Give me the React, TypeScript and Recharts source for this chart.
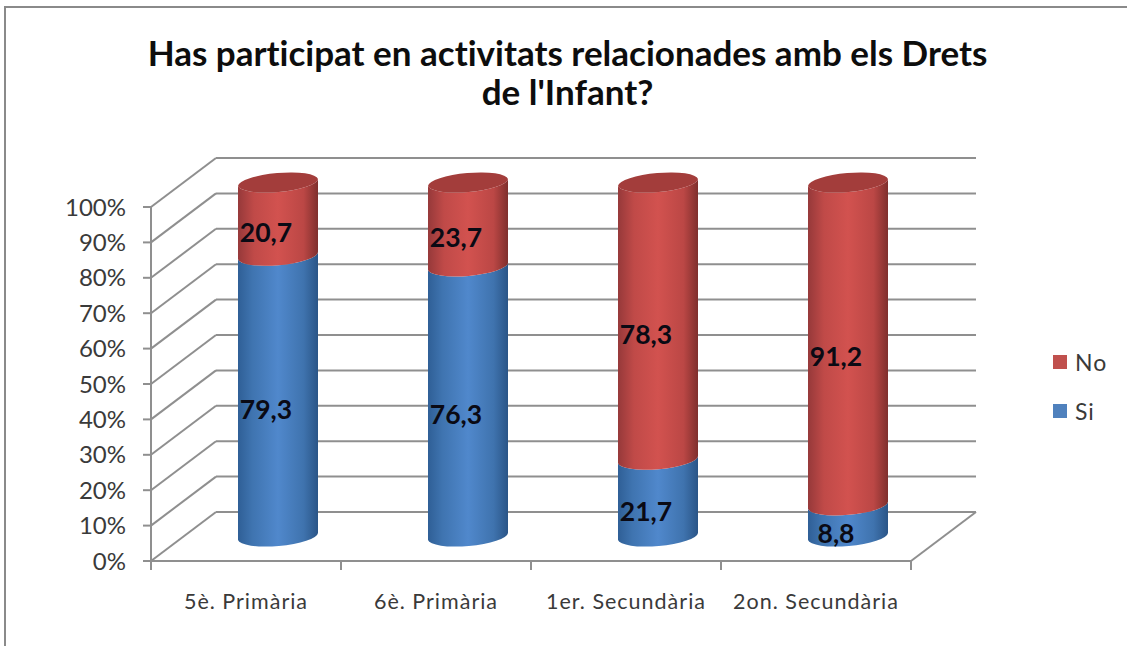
import React from 'react';
import { BarChart, Bar, XAxis, YAxis, CartesianGrid, Legend, LabelList } from 'recharts';

const categories = ['5è. Primària', '6è. Primària', '1er. Secundària', '2on. Secundària'];
const siValues = [79.3, 76.3, 21.7, 8.8];
const noValues = [20.7, 23.7, 78.3, 91.2];
const yTicks = [0, 10, 20, 30, 40, 50, 60, 70, 80, 90, 100];
const titleLines = ["Has participat en activitats relacionades amb els Drets", "de l'Infant?"];

const rows = categories.map((name, i) => ({ name, Si: siValues[i], No: noValues[i] }));

const DEPTH_X = 65;
const DEPTH_Y = 49;
const BAR_DX = 32;
const BAR_DY = 24.5;
const RY = 10;
const TILT = 3.5;
const GRID = '#8f8f8f';
const TEXT = '#3a3a3a';
const FONT = 'Lato, "Open Sans", sans-serif';

const Cylinder = (props: any) => {
  const { x, y, width, height, gradient, cap } = props;
  const l = x + BAR_DX;
  const r = l + width;
  const t = y - BAR_DY;
  const b = t + height;
  const rx = width / 2 + 0.2;
  const arcDown = `A ${rx} ${RY} -5 0 0`;
  const arcUp = `A ${rx} ${RY} -5 0 1`;
  const body = `M ${l} ${t + TILT} ${arcDown} ${r} ${t - TILT} L ${r} ${b - TILT} ${arcUp} ${l} ${b + TILT} Z`;
  return (
    <g>
      <path d={body} fill={`url(#${gradient})`} />
      {cap ? (
        <path d={`M ${l} ${t + TILT} ${arcDown} ${r} ${t - TILT} ${arcDown} ${l} ${t + TILT} Z`} fill={cap} />
      ) : null}
    </g>
  );
};

const ValueLabel = (props: any) => {
  const { x, y, width, height, value } = props;
  return (
    <text
      x={x + width / 2 + 20}
      y={y + height / 2 - 12}
      textAnchor="middle"
      dominantBaseline="central"
      fontFamily={FONT}
      fontWeight={700}
      fontSize={26.5}
      fill="#0a0a14"
    >
      {String(value).replace('.', ',')}
    </text>
  );
};

const depthLine = (props: any) => {
  const { x1, x2, y1, y2, index } = props;
  const isFloor = y1 >= 560;
  return (
    <g key={`depth-${index}-${y1}`} stroke={GRID} strokeWidth={2} fill="none">
      <line x1={x1} y1={y1} x2={x1 + DEPTH_X} y2={y1 - DEPTH_Y} />
      <line x1={x1 + DEPTH_X} y1={y1 - DEPTH_Y} x2={x2 + DEPTH_X} y2={y2 - DEPTH_Y} />
      {isFloor ? <line x1={x2} y1={y2} x2={x2 + DEPTH_X} y2={y2 - DEPTH_Y} /> : null}
    </g>
  );
};

const CategoryTick = (props: any) => {
  const { x, y, width, index, payload } = props;
  const band = width / categories.length;
  const left = x - band / 2;
  const right = x + band / 2;
  return (
    <g>
      <line x1={left} y1={y} x2={left} y2={y + 9} stroke={GRID} strokeWidth={2} />
      {index === categories.length - 1 ? (
        <line x1={right} y1={y} x2={right} y2={y + 9} stroke={GRID} strokeWidth={2} />
      ) : null}
      <text
        x={x}
        y={y + 40}
        textAnchor="middle"
        dominantBaseline="central"
        fontFamily={FONT}
        fontSize={21.5}
        letterSpacing={1}
        fill={TEXT}
      >
        {payload.value}
      </text>
    </g>
  );
};

const LegendBox = (props: any) => {
  const items = props.payload || [];
  return (
    <div style={{ fontFamily: FONT, fontSize: 23, color: TEXT }}>
      {items.map((it: any) => (
        <div key={it.value} style={{ display: 'flex', alignItems: 'center', height: 49 }}>
          <span style={{ width: 14, height: 14, background: it.color, display: 'inline-block', marginRight: 8 }} />
          <span style={{ letterSpacing: 1 }}>{it.value}</span>
        </div>
      ))}
    </div>
  );
};

export default function App() {
  return (
    <div
      style={{
        position: 'absolute',
        left: 0,
        top: 0,
        width: 1127,
        height: 646,
        overflow: 'hidden',
        background: '#fff',
      }}
    >
      <div
        style={{
          position: 'absolute',
          left: 4,
          top: 6,
          width: 1123,
          height: 640,
          boxSizing: 'border-box',
          borderTop: '2px solid #8a8a8a',
          borderLeft: '2px solid #8a8a8a',
        }}
      />
      <div
        style={{
          position: 'absolute',
          left: 0,
          top: 33,
          width: 1135,
          textAlign: 'center',
          fontFamily: FONT,
          fontWeight: 700,
          fontSize: 35,
          lineHeight: '39px',
          color: '#0d0d0d',
          fontVariantLigatures: 'none',
        }}
      >
        {titleLines.map((line) => (
          <div key={line}>{line}</div>
        ))}
      </div>
      <div style={{ position: 'absolute', left: 0, top: 0 }}>
        <BarChart
          width={1127}
          height={646}
          data={rows}
          margin={{ left: 0, top: 207, right: 146, bottom: 0 }}
          barSize={80}
        >
          <defs>
            <linearGradient id="blueCyl" x1="0" y1="0" x2="1" y2="0">
              <stop offset="0" stopColor="#2f5f96" />
              <stop offset="0.18" stopColor="#3f74b0" />
              <stop offset="0.5" stopColor="#5088cc" />
              <stop offset="0.82" stopColor="#3f73ae" />
              <stop offset="1" stopColor="#2a5587" />
            </linearGradient>
            <linearGradient id="redCyl" x1="0" y1="0" x2="1" y2="0">
              <stop offset="0" stopColor="#96393a" />
              <stop offset="0.2" stopColor="#c04a48" />
              <stop offset="0.5" stopColor="#d2524f" />
              <stop offset="0.82" stopColor="#bb4745" />
              <stop offset="1" stopColor="#7f2f2d" />
            </linearGradient>
          </defs>
          <CartesianGrid horizontal={depthLine} vertical={false} stroke={GRID} />
          <XAxis
            dataKey="name"
            height={85}
            interval={0}
            tickLine={false}
            axisLine={{ stroke: GRID, strokeWidth: 2 }}
            tickSize={0}
            tickMargin={0}
            tick={CategoryTick}
          />
          <YAxis
            width={151}
            domain={[0, 100]}
            ticks={yTicks}
            interval={0}
            tickFormatter={(v: number) => `${v}%`}
            tickLine={{ stroke: GRID, strokeWidth: 2 }}
            axisLine={{ stroke: GRID, strokeWidth: 2 }}
            tickSize={8}
            tickMargin={17}
            tick={{ fontFamily: FONT, fontSize: 24, fill: TEXT }}
          />
          <Bar
            dataKey="Si"
            stackId="a"
            fill="#4f81bd"
            isAnimationActive={false}
            shape={(p: any) => <Cylinder {...p} gradient="blueCyl" />}
          >
            <LabelList dataKey="Si" content={ValueLabel} />
          </Bar>
          <Bar
            dataKey="No"
            stackId="a"
            fill="#c0504d"
            isAnimationActive={false}
            shape={(p: any) => <Cylinder {...p} gradient="redCyl" cap="#a33d3b" />}
          >
            <LabelList dataKey="No" content={ValueLabel} />
          </Bar>
          <Legend
            layout="vertical"
            verticalAlign="top"
            align="right"
            content={LegendBox}
            wrapperStyle={{ position: 'absolute', left: 1053, top: 337, width: 70, right: 'auto' }}
          />
        </BarChart>
      </div>
    </div>
  );
}
